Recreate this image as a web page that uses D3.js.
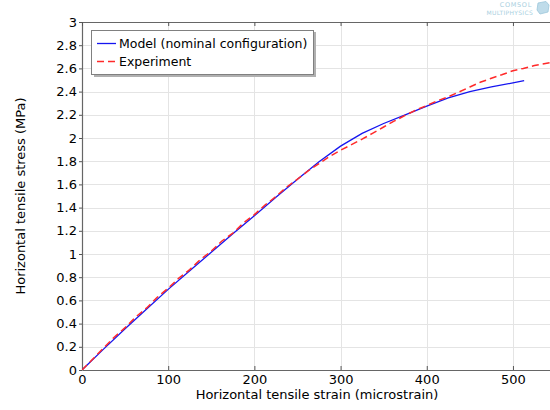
<!DOCTYPE html>
<html>
<head>
<meta charset="utf-8">
<script src="https://cdn.jsdelivr.net/npm/d3@7"></script>
<style>
  html, body { margin: 0; padding: 0; background: #fff; }
  svg { display: block; font-family: "DejaVu Sans", sans-serif; }
</style>
</head>
<body>
<svg id="chart" width="550" height="410"></svg>
<script>
// ---- Data ----
const modelStrain = [0, 25, 50, 75, 100, 125, 150, 175, 200, 225, 250, 275, 300, 325, 350, 375, 400, 425, 450, 475, 500, 513];
const modelStress = [0, 0.18, 0.355, 0.525, 0.695, 0.855, 1.015, 1.175, 1.33, 1.49, 1.645, 1.795, 1.93, 2.04, 2.125, 2.2, 2.275, 2.345, 2.4, 2.44, 2.475, 2.494];

const expStrain = [0, 12, 25, 37, 50, 62, 75, 87, 100, 112, 125, 137, 150, 162, 175, 187, 200, 212, 225, 237, 250, 262, 275, 287, 300, 312, 325, 337, 350, 362, 375, 387, 400, 412, 425, 437, 450, 462, 475, 487, 500, 512, 525, 543];
const expStress = [0, 0.09, 0.19, 0.28, 0.365, 0.455, 0.535, 0.625, 0.705, 0.79, 0.865, 0.95, 1.025, 1.11, 1.18, 1.265, 1.34, 1.42, 1.495, 1.575, 1.645, 1.715, 1.78, 1.84, 1.895, 1.94, 1.99, 2.04, 2.095, 2.145, 2.195, 2.24, 2.28, 2.32, 2.355, 2.395, 2.44, 2.48, 2.515, 2.545, 2.58, 2.6, 2.625, 2.65];

const xTicks = [0, 100, 200, 300, 400, 500];
const yTicks = [0, 0.2, 0.4, 0.6, 0.8, 1, 1.2, 1.4, 1.6, 1.8, 2, 2.2, 2.4, 2.6, 2.8, 3];
const seriesNames = ["Model (nominal configuration)", "Experiment"];
const xTitle = "Horizontal tensile strain (microstrain)";
const yTitle = "Horizontal tensile stress (MPa)";

// ---- Layout ----
const svg = d3.select("#chart");
const L = 82, R = 550, T = 22, B = 370;
const x = d3.scaleLinear().domain([0, 543]).range([L, R]);
const y = d3.scaleLinear().domain([0, 3]).range([B, T]);

// grid
const grid = svg.append("g");
grid.selectAll("line.hy").data(yTicks.slice(1)).join("line")
  .attr("x1", L).attr("x2", R)
  .attr("y1", d => Math.round(y(d)) + 0.5).attr("y2", d => Math.round(y(d)) + 0.5)
  .attr("stroke", "#e4e4e4").attr("stroke-width", 1);
grid.selectAll("line.vx").data(xTicks.slice(1)).join("line")
  .attr("y1", T).attr("y2", B)
  .attr("x1", d => Math.round(x(d)) + 0.5).attr("x2", d => Math.round(x(d)) + 0.5)
  .attr("stroke", "#e4e4e4").attr("stroke-width", 1);

// axes
const fmt = d => d3.format("~g")(d);
const xAxis = svg.append("g").attr("transform", `translate(0,${B})`)
  .call(d3.axisBottom(x).tickValues(xTicks).tickFormat(fmt).tickSizeInner(-4).tickSizeOuter(0).tickPadding(5));
const yAxis = svg.append("g").attr("transform", `translate(${L},0)`)
  .call(d3.axisLeft(y).tickValues(yTicks).tickFormat(fmt).tickSizeInner(3).tickSizeOuter(0).tickPadding(2));
const xTop = svg.append("g").attr("transform", `translate(0,${T})`)
  .call(d3.axisTop(x).tickValues(xTicks).tickFormat("").tickSizeInner(-4).tickSizeOuter(0));
[xAxis, yAxis, xTop].forEach(g => {
  g.select(".domain").attr("stroke", "#666").attr("stroke-width", 1.2);
  g.selectAll(".tick line").attr("stroke", "#555");
  g.selectAll(".tick text").attr("fill", "#000").style("font-size", "13px").style("font-family", "DejaVu Sans");
});

// lines
const lineGen = d3.line().x(d => x(d[0])).y(d => y(d[1]));
svg.append("clipPath").attr("id", "clip").append("rect")
  .attr("x", L).attr("y", T).attr("width", R - L).attr("height", B - T);
svg.append("path")
  .datum(modelStrain.map((s, i) => [s, modelStress[i]]))
  .attr("d", lineGen).attr("fill", "none").attr("stroke", "#1515f0").attr("stroke-width", 1.3)
  .attr("clip-path", "url(#clip)");
svg.append("path")
  .datum(expStrain.map((s, i) => [s, expStress[i]]))
  .attr("d", lineGen).attr("fill", "none").attr("stroke", "#ff2a2a").attr("stroke-width", 1.5)
  .attr("stroke-dasharray", "7,4").attr("clip-path", "url(#clip)");

// axis titles
svg.append("text").attr("x", (L + R) / 2 + 1).attr("y", 399).attr("text-anchor", "middle")
  .style("font-size", "13px").text(xTitle);
svg.append("text").attr("transform", `translate(25,${(T + B) / 2}) rotate(-90)`)
  .attr("text-anchor", "middle").style("font-size", "13px").text(yTitle);

// legend
const lg = svg.append("g");
lg.append("rect").attr("x", 94).attr("y", 32).attr("width", 222).attr("height", 45).attr("fill", "#b0b0b0");
lg.append("rect").attr("x", 91.5).attr("y", 30.5).attr("width", 222).attr("height", 44)
  .attr("fill", "#fff").attr("stroke", "#808080").attr("stroke-width", 1);
const colors = ["#1515f0", "#ff2a2a"];
seriesNames.forEach((name, i) => {
  const yy = 43.5 + i * 18;
  lg.append("line").attr("x1", 97).attr("x2", 116).attr("y1", yy).attr("y2", yy)
    .attr("stroke", colors[i]).attr("stroke-width", i ? 1.5 : 1.3)
    .attr("stroke-dasharray", i ? "7,4" : null);
  lg.append("text").attr("x", 119).attr("y", yy + 4.5).style("font-size", "12.5px").text(name);
});

// COMSOL watermark
const wm = svg.append("g").attr("fill", "#a9cfe0");
wm.append("text").attr("x", 532).attr("y", 7).attr("text-anchor", "end")
  .style("font-size", "6.5px").style("letter-spacing", "0.7px").text("COMSOL");
wm.append("text").attr("x", 533).attr("y", 14.5).attr("text-anchor", "end")
  .style("font-size", "6px").style("letter-spacing", "0.3px").text("MULTIPHYSICS");
wm.append("path").attr("d", "M538,3 L546,1.5 L549,5 L548,12 L540,14 L537,10 Z")
  .attr("fill", "#bfdcea").attr("stroke", "#9cc6da").attr("stroke-width", 0.8);
</script>
</body>
</html>
